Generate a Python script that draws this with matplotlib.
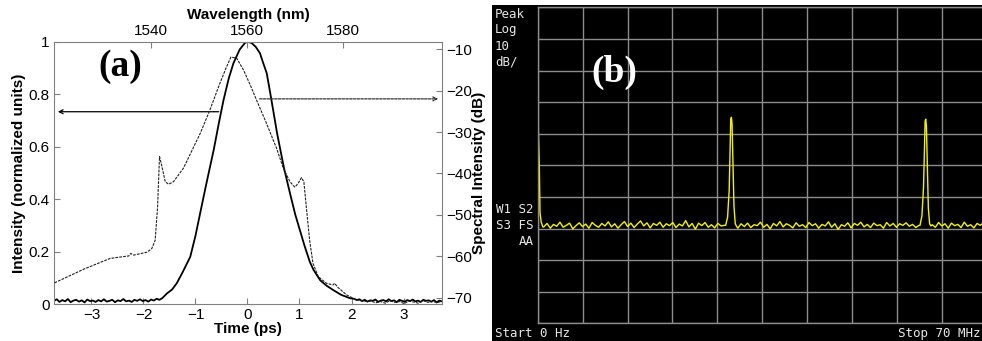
import numpy as np
import matplotlib
matplotlib.use('Agg')
import matplotlib.pyplot as plt

# ---------------- panel (a) data ----------------
# pulse intensity vs time (ps), noisy baselines on both sides
pulse_left_noise = [0.012, 0.018, 0.008, 0.015, 0.010, 0.019, 0.007, 0.013, 0.016, 0.009,
                    0.014, 0.006, 0.017, 0.011, 0.013, 0.008, 0.015, 0.010, 0.018, 0.009,
                    0.012, 0.016, 0.007, 0.014, 0.011, 0.019, 0.010, 0.013, 0.008, 0.016,
                    0.012, 0.018, 0.011, 0.015, 0.009, 0.017, 0.013, 0.020, 0.016, 0.022]
pulse_core_t = [-1.60, -1.55, -1.45, -1.36, -1.25, -1.10, -1.00, -0.91, -0.80, -0.65,
                -0.55, -0.46, -0.36, -0.27, -0.15, -0.05, 0.00, 0.08, 0.16, 0.24,
                0.30, 0.37, 0.45, 0.57, 0.70, 0.82, 0.92, 1.01, 1.10, 1.20,
                1.27, 1.40, 1.52, 1.65, 1.80, 1.97]
pulse_core_i = [0.030, 0.040, 0.055, 0.079, 0.120, 0.180, 0.260, 0.346, 0.450, 0.587,
                0.690, 0.778, 0.860, 0.918, 0.970, 0.995, 1.000, 0.995, 0.980, 0.956,
                0.920, 0.880, 0.790, 0.650, 0.520, 0.420, 0.340, 0.280, 0.220, 0.160,
                0.130, 0.090, 0.070, 0.053, 0.035, 0.022]
pulse_right_noise = [0.020, 0.015, 0.018, 0.011, 0.016, 0.009, 0.014, 0.012, 0.017, 0.008,
                     0.013, 0.015, 0.010, 0.018, 0.011, 0.014, 0.007, 0.016, 0.012, 0.009,
                     0.015, 0.011, 0.017, 0.010, 0.013, 0.008, 0.016, 0.012, 0.014, 0.009,
                     0.015, 0.006, 0.013, 0.010]

# spectrum (dB) vs wavelength (nm)
spec_wl = [1519.8, 1525.9, 1531.4, 1535.3, 1535.7, 1536.3, 1539.1, 1540.1, 1540.8, 1541.3,
           1541.7, 1542.2, 1542.9, 1543.6, 1544.6, 1546.7, 1550.2, 1552.2, 1554.3, 1555.7,
           1556.6, 1557.8, 1559.2, 1560.6, 1561.9, 1564.0, 1566.1, 1567.5, 1568.9, 1569.9,
           1570.6, 1571.3, 1571.8, 1572.3, 1573.0, 1573.7, 1574.8, 1576.5, 1577.9, 1578.2,
           1578.9, 1580.7, 1582.7, 1584.8]
spec_db = [-66.4, -63.1, -60.5, -59.9, -59.3, -59.7, -59.0, -58.1, -56.1, -48.0,
           -35.9, -38.3, -42.0, -42.6, -42.0, -38.7, -30.3, -24.7, -18.2, -14.2,
           -11.9, -12.2, -15.0, -18.6, -22.2, -27.9, -33.9, -38.7, -42.0, -43.3,
           -42.4, -41.0, -42.0, -48.0, -56.1, -61.7, -64.9, -66.5, -66.9, -66.5,
           -67.5, -69.3, -70.5, -70.9]
spec_tail_db = [-70.8, -71.2, -70.9, -71.3, -70.7, -71.1, -70.9, -71.4, -70.8, -71.0,
                -71.3, -70.7, -71.1, -70.9, -71.2, -70.8]

# ---------------- panel (b) data ----------------
dc_f = [0.0, 0.1, 0.25, 0.36, 0.55, 0.8]
dc_db = [-33.0, -40.0, -50.0, -65.0, -68.0, -69.5]
noise_a = [-69.5, -68.4, -69.9, -68.7, -69.3, -68.0, -69.6, -69.0, -68.3, -70.1,
           -69.1, -68.2, -69.4, -68.6, -69.9, -68.1, -69.0, -69.6, -68.4, -69.2,
           -67.9, -69.5, -68.5, -69.9, -68.8, -67.8, -69.4, -68.3, -69.7, -68.6,
           -67.6, -69.2, -68.2, -69.8, -68.4, -69.0, -68.0, -69.6, -68.5, -69.1,
           -68.1, -69.7, -68.6, -69.2, -67.5, -69.5, -68.4, -70.2, -68.3, -69.1,
           -68.1, -69.6, -68.8, -69.8, -68.4, -69.2, -69.0]
peak1_f = [29.3, 29.6, 29.85, 30.0, 30.1, 30.2, 30.3, 30.45, 30.6, 30.8, 31.0]
peak1_db = [-69.0, -66.5, -58.0, -45.0, -35.5, -34.8, -37.0, -50.0, -63.0, -68.5, -69.3]
noise_b = [-69.9, -68.5, -69.4, -68.3, -69.7, -68.8, -69.1, -68.0, -69.6, -68.7,
           -70.1, -68.4, -69.2, -67.8, -69.5, -68.5, -69.0, -69.8, -68.2, -69.3,
           -68.8, -69.7, -68.1, -69.1, -68.5, -69.9, -68.7, -69.2, -67.9, -69.6,
           -68.5, -70.3, -68.8, -69.3, -68.2, -69.8, -68.4, -69.0, -68.0, -69.5,
           -68.7, -69.7, -68.3, -69.1, -68.8, -69.9, -68.1, -69.2, -68.4, -69.6,
           -68.5, -69.0, -68.2, -69.3, -68.7, -69.7, -69.0]
peak2_f = [59.6, 59.9, 60.15, 60.3, 60.4, 60.5, 60.6, 60.75, 60.9, 61.1, 61.3]
peak2_db = [-69.0, -66.0, -57.0, -44.0, -36.0, -35.4, -37.5, -51.0, -63.5, -68.5, -69.2]
noise_c = [-68.8, -69.6, -68.1, -69.2, -68.5, -69.9, -68.3, -69.1, -68.7, -69.7,
           -68.0, -69.3, -68.8, -69.8, -68.4, -69.0, -68.2, -69.2]


def build_pulse():
    t = np.concatenate([np.linspace(-3.72, -1.64, len(pulse_left_noise)), pulse_core_t,
                        np.linspace(2.05, 3.74, len(pulse_right_noise))])
    i = np.concatenate([pulse_left_noise, pulse_core_i, pulse_right_noise])
    return t, i


def build_spectrum():
    wl = np.concatenate([spec_wl, np.linspace(1585.8, 1600.6, len(spec_tail_db))])
    db = np.concatenate([spec_db, spec_tail_db])
    return wl, db


def build_rf():
    f = np.concatenate([dc_f, np.linspace(0.95, 29.1, len(noise_a)), peak1_f,
                        np.linspace(31.2, 59.45, len(noise_b)), peak2_f,
                        np.linspace(61.5, 70.0, len(noise_c))])
    db = np.concatenate([dc_db, noise_a, peak1_db, noise_b, peak2_db, noise_c])
    return f, db


W, H = 982, 341
fig = plt.figure(figsize=(W / 100, H / 100), dpi=100)
sans = 'Liberation Sans'
gray = '#808080'

# ---------------- panel (a) ----------------
pos_a = [54 / W, (H - 304) / H, (442 - 54) / W, (304 - 41.7) / H]
ax1 = fig.add_axes(pos_a)
t, inten = build_pulse()
ax1.plot(t, inten, color='k', lw=1.3)
ax1.set_xlim(-3.72, 3.74)
ax1.set_ylim(0, 1)
ax1.set_xticks([-3, -2, -1, 0, 1, 2, 3])
ax1.set_yticks([0, 0.2, 0.4, 0.6, 0.8, 1])
ax1.set_yticklabels(['0', '0.2', '0.4', '0.6', '0.8', '1'])
for s in ax1.spines.values():
    s.set_color(gray)
ax1.tick_params(direction='in', length=4, color=gray, labelsize=11, pad=3)
for lab in ax1.get_xticklabels() + ax1.get_yticklabels():
    lab.set_fontfamily(sans)
ax1.set_xlabel('Time (ps)', fontsize=11, fontweight='bold', family=sans, labelpad=0)
ax1.set_ylabel('Intensity (normalized units)', fontsize=11, fontweight='bold', family=sans, labelpad=2)

# arrows pointing to the axes
ax1.annotate('', xy=(-3.70, 0.733), xytext=(-0.5, 0.733),
             arrowprops=dict(arrowstyle='->', color='k', lw=0.9, mutation_scale=7))
ax1.annotate('', xy=(3.72, 0.782), xytext=(0.18, 0.782),
             arrowprops=dict(arrowstyle='->', color='#333333', lw=0.9, ls=(0, (2, 1)), mutation_scale=7))

ax1.text(-2.45, 0.905, '(a)', fontsize=27, fontweight='bold', family='Liberation Serif',
         ha='center', va='center')

# spectrum on top/right axes
ax2 = fig.add_axes(pos_a, frameon=False)
wl, sdb = build_spectrum()
ax2.plot(wl, sdb, color='#222222', lw=0.8, dashes=(2.5, 1))
ax2.set_xlim(1519.7, 1600.6)
ax2.set_ylim(-71.5, -8.2)
ax2.xaxis.tick_top()
ax2.yaxis.tick_right()
ax2.xaxis.set_label_position('top')
ax2.yaxis.set_label_position('right')
ax2.set_xticks([1540, 1560, 1580])
ax2.set_yticks([-70, -60, -50, -40, -30, -20, -10])
ax2.tick_params(direction='in', length=4, color=gray, labelsize=11, pad=3)
for lab in ax2.get_xticklabels() + ax2.get_yticklabels():
    lab.set_fontfamily(sans)
ax2.set_xlabel('Wavelength (nm)', fontsize=11, fontweight='bold', family=sans, labelpad=3)
ax2.set_ylabel('Spectral Intensity (dB)', fontsize=11, fontweight='bold', family=sans, labelpad=0)

# ---------------- panel (b) ----------------
bg = fig.add_axes([492 / W, 0, (W - 492) / W, (H - 5) / H])
bg.set_facecolor('black')
bg.set_xticks([])
bg.set_yticks([])
for s in bg.spines.values():
    s.set_visible(False)

grid_gray = '#8c8c8c'
ax3 = fig.add_axes([537.7 / W, (H - 323.3) / H, 449 / W, 316 / H])
ax3.set_facecolor('black')
f, rdb = build_rf()
ax3.plot(f, rdb, color='#f2f200', lw=1.0)
ax3.set_xlim(0, 70)
ax3.set_ylim(-100, 0)
ax3.set_xticks(np.arange(0, 71, 7))
ax3.set_yticks(np.arange(-100, 1, 10))
ax3.grid(True, color=grid_gray, lw=1.0)
ax3.tick_params(length=0, labelbottom=False, labelleft=False)
for s in ax3.spines.values():
    s.set_color(grid_gray)
    s.set_linewidth(1.0)

mono = 'DejaVu Sans Mono'
txt = '#e6e6e6'
for k, s in enumerate(['Peak', 'Log', '10', 'dB/']):
    fig.text(495 / W, 1 - (14 + 16 * k) / H, s, color=txt, fontsize=9, family=mono, va='center', ha='left')
for k, s in enumerate(['W1 S2', 'S3 FS', 'AA']):
    fig.text(534 / W, 1 - (209.5 + 16 * k) / H, s, color=txt, fontsize=9, family=mono, va='center', ha='right')
fig.text(495 / W, 1 - 333.5 / H, 'Start 0 Hz', color=txt, fontsize=9, family=mono, va='center', ha='left')
fig.text(980 / W, 1 - 333.5 / H, 'Stop 70 MHz', color=txt, fontsize=9, family=mono, va='center', ha='right')
fig.text(614 / W, 1 - 72 / H, '(b)', color='white', fontsize=27, fontweight='bold',
         family='Liberation Serif', va='center', ha='center')

fig.savefig('out.png', dpi=100)
